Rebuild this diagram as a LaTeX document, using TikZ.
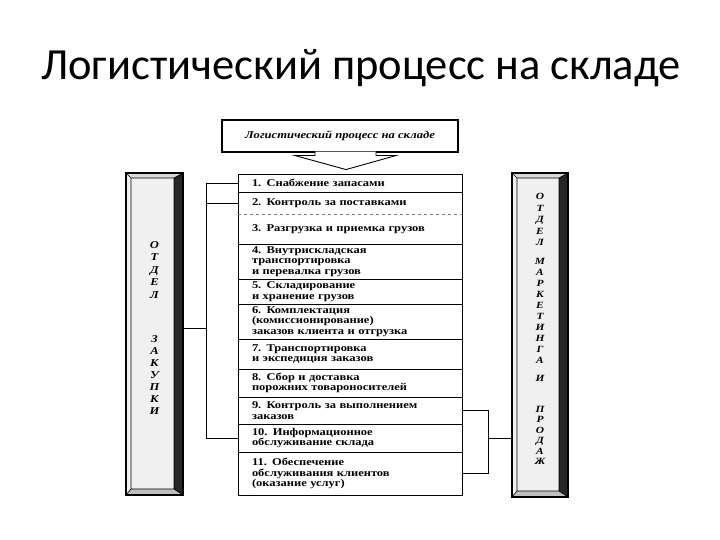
\documentclass[tikz,border=0pt]{standalone}
\usepackage{fontspec}
\setmainfont{Liberation Serif}
\newfontfamily\ttlfont{Carlito}
\newfontfamily\scanfont[FakeStretch=1.2]{Liberation Serif}
\usetikzlibrary{positioning,calc}
\tikzset{
	dept/.style={draw, line width=1.1pt, fill=gray!12, minimum width=57pt, minimum height=322pt,
		inner sep=0pt, outer sep=0pt,
		path picture={
			\path (path picture bounding box.north west) coordinate (a1)
				(path picture bounding box.north east) coordinate (a2)
				(path picture bounding box.south east) coordinate (a3)
				(path picture bounding box.south west) coordinate (a4);
			\path ([shift={(5pt,-5pt)}]a1) coordinate (b1) ([shift={(-9pt,-5pt)}]a2) coordinate (b2)
				([shift={(-9pt,6pt)}]a3) coordinate (b3) ([shift={(5pt,6pt)}]a4) coordinate (b4);
			\fill[gray!30] (a1) -- (a2) -- (b2) -- (b1) -- cycle;
			\fill[gray!50] (a4) -- (a3) -- (b3) -- (b4) -- cycle;
			\fill[black!85] (a2) -- (a3) -- (b3) -- (b2) -- cycle;
			\draw[line width=.6pt] (b1) rectangle (b3) (a1) -- (b1) (a2) -- (b2) (a3) -- (b3) (a4) -- (b4);
		}},
	deptlab/.style={font=\scanfont\bfseries\itshape\fontsize{#1}{#1}\selectfont, align=center, yshift=6pt},
	row/.style={draw, line width=.9pt, minimum width=224pt, text width=196pt, align=left,
		inner sep=0pt, outer sep=0pt, font=\scanfont\bfseries\fontsize{10.4}{10.5}\selectfont},
	link/.style={line width=.9pt}
}
\begin{document}
\begin{tikzpicture}[x=1pt, y=-1pt,
		ban/.style={draw, line width=1.1pt, minimum width=236pt, minimum height=32pt, inner sep=0pt,
			font=\scanfont\bfseries\itshape\fontsize{10.5}{12}\selectfont},
		pointer/.style={line width=.9pt, fill=white}]
	\useasboundingbox (0,0) rectangle (720,540);
	\node[font=\ttlfont\fontsize{44.5}{50}\selectfont] (ttl) at (361,68) {Логистический процесс на складе};
	
	\node[ban] (ban) at (340,136) {Логистический процесс на складе};
	\draw[pointer] ([xshift=-25pt,yshift=1pt]ban.south) -- ++(0,4) -- ++(-20,0)
		-- ([xshift=6pt,yshift=-17pt]ban.south) -- ([xshift=56pt,yshift=-3pt]ban.south) -- ++(-20,0) -- ++(0,-4);
	
	% steps of the process
	\node[row, minimum height=18pt] (r1) at (350,183) {1. Снабжение запасами};
	\node[row, minimum height=22pt] (r2) at (350,203) {2. Контроль за поставками};
	\node[row, minimum height=30pt] (r3) at (350,229) {3. Разгрузка и приемка грузов};
	\node[row, minimum height=35pt] (r4) at (350,261.5) {4. Внутрискладская\\транспортировка\\и перевалка грузов};
	\node[row, minimum height=25pt] (r5) at (350,291.5) {5. Складирование\\и хранение грузов};
	\node[row, minimum height=35pt] (r6) at (350,321.5) {6. Комплектация\\(комиссионирование)\\заказов клиента и отгрузка};
	\node[row, minimum height=30pt] (r7) at (350,354) {7. Транспортировка\\и экспедиция заказов};
	\node[row, minimum height=28pt] (r8) at (350,383) {8. Сбор и доставка\\порожних товароносителей};
	\node[row, minimum height=27pt] (r9) at (350,410.5) {9. Контроль за выполнением\\заказов};
	\node[row, minimum height=28pt] (r10) at (350,438) {10. Информационное\\обслуживание склада};
	\node[row, minimum height=43pt] (r11) at (350,473.5) {11. Обеспечение\\обслуживания клиентов\\(оказание услуг)};
	\draw[white, line width=1.4pt] ([xshift=1pt]r2.south west) -- ([xshift=-1pt]r2.south east);
	\draw[gray, dashed, line width=.5pt] (r2.south west) -- (r2.south east);
	
	% departments
	\node[dept, label={[deptlab=10.5]center:О\\[2pt]Т\\[2pt]Д\\[2pt]Е\\[2pt]Л\\[34pt]З\\[1.5pt]А\\[1.5pt]К\\[1.5pt]У\\[1.5pt]П\\[1.5pt]К\\[1.5pt]И}] (zak) at (154.5,334) {};
	\node[dept, minimum width=56pt, minimum height=324pt,
		label={[deptlab=9.5]center:О\\[2pt]Т\\[2pt]Д\\[2pt]Е\\[2pt]Л\\[9pt]М\\[1.5pt]А\\[1.5pt]Р\\[1.5pt]К\\[1.5pt]Е\\[1.5pt]Т\\[1.5pt]И\\[1.5pt]Н\\[1.5pt]Г\\[1.5pt]А\\[9pt]И\\[21pt]П\\[1pt]Р\\[1pt]О\\[1pt]Д\\[1pt]А\\[1pt]Ж}] (mar) at (540,335) {};
	
	\draw[link] (r1.west) -- ++(-32,0) coordinate (lb) |- (r10.west);
	\draw[link] (r2.west) -- (r2.west -| lb);
	\draw[link] ([yshift=6pt]zak.east) -- ([yshift=6pt]zak.east -| lb);
	\draw[link] (r9.east) -- ++(26,0) coordinate (rb) |- (r11.east);
	\draw[link] (r10.east -| rb) -- (r10.east -| mar.west);
\end{tikzpicture}
\end{document}
